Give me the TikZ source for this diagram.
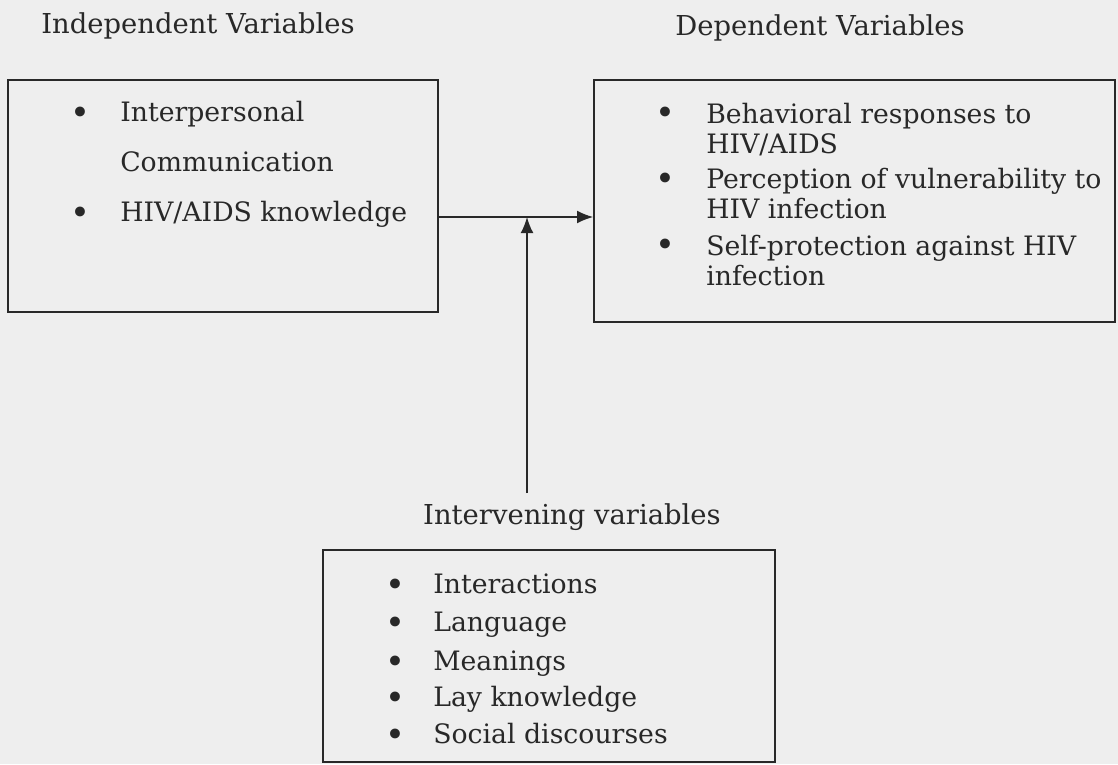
\documentclass[tikz,border=0pt]{standalone}
\usepackage{fontspec}
\setmainfont{DejaVu Serif}
\usetikzlibrary{arrows.meta}
\definecolor{scan}{RGB}{238,238,238}
\definecolor{ink}{RGB}{40,40,40}
\tikzset{
	varbox/.style={draw=ink, line width=1.1pt, inner sep=0pt},
	heading/.style={font=\fontsize{19.5}{23}\selectfont, text=ink},
	itemtext/.style={font=\fontsize{19}{23}\selectfont, text=ink, anchor=mid west, inner sep=0pt},
	dot/.style={font=\fontsize{24}{28}\selectfont, text=ink, inner sep=0pt},
	flow/.style={draw=ink, line width=1.1pt, -{Latex[length=4mm,width=3.2mm]}}
}

\begin{document}
\begin{tikzpicture}[x=0.025cm,y=-0.025cm]
	\useasboundingbox[fill=scan] (0,0) rectangle (1118,764);
	% titles
	\node[heading] (indeptitle) at (198,26) {Independent Variables};
	\node[heading] (deptitle) at (820,28) {Dependent Variables};
	\node[heading] (intervtitle) at (572,517) {Intervening variables};
	% boxes
	\node[varbox, minimum width=10.75cm, minimum height=5.8cm] (indep) at (223,196) {};
	\node[varbox, minimum width=13.025cm, minimum height=6.05cm] (dep) at (854.5,201) {};
	\node[varbox, minimum width=11.3cm, minimum height=5.3cm] (interv) at (549,656) {};
	% independent
	\foreach \y [count=\i] in {116,216}
		\node[dot] (indepdot\i) at (80,\y) {\textbullet};
	\node[itemtext] (indep1) at (120,118) {Interpersonal};
	\node[itemtext] (indep2) at (120,168) {Communication};
	\node[itemtext] (indep3) at (120,218) {HIV/AIDS knowledge};
	% dependent
	\foreach \y [count=\i] in {116,182,248}
		\node[dot] (depdot\i) at (665,\y) {\textbullet};
	\node[itemtext] (dep1) at (706,120) {Behavioral responses to};
	\node[itemtext] (dep2) at (706,150) {HIV/AIDS};
	\node[itemtext] (dep3) at (706,185) {Perception of vulnerability to};
	\node[itemtext] (dep4) at (706,215) {HIV infection};
	\node[itemtext] (dep5) at (706,252) {Self-protection against HIV};
	\node[itemtext] (dep6) at (706,282) {infection};
	% intervening
	\foreach \y/\t [count=\i] in {590/Interactions, 628/Language, 667/Meanings, 703/Lay knowledge, 740/Social discourses}{
		\node[dot] (intervdot\i) at (395,\y-2) {\textbullet};
		\node[itemtext] (interv\i) at (433,\y) {\t};
	}
	% arrows
	\coordinate (meet) at (527,217);
	\coordinate (rise) at (527,493);
	\draw[flow] (indep.east |- meet) -- (dep.west |- meet);
	\draw[flow] (rise) -- (meet);
\end{tikzpicture}
\end{document}
